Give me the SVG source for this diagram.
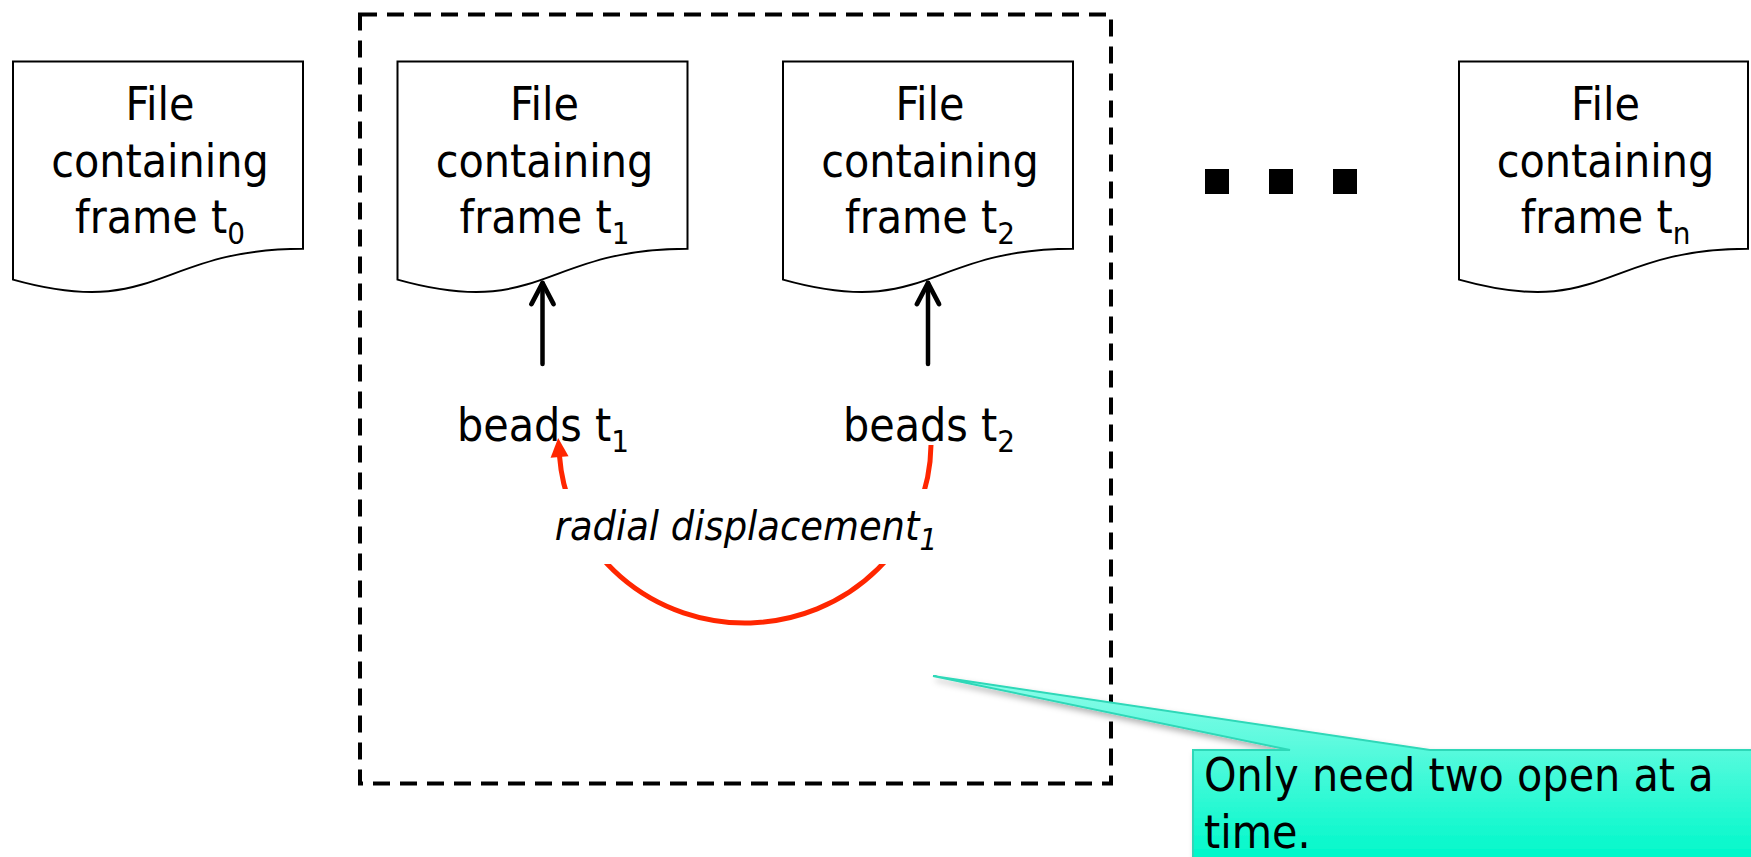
<svg xmlns="http://www.w3.org/2000/svg" width="1751" height="857" viewBox="0 0 1751 857">
  <style>
    .txt { font-family: "DejaVu Sans Condensed", "DejaVu Sans", "Liberation Sans", sans-serif; font-stretch: condensed; font-size: 46px; fill: #000; }
    .mid { text-anchor: middle; }
    .ital { font-style: italic; font-size: 41px; }
    .sub { font-size: 31px; }
    .doc { fill: #fff; stroke: #000; stroke-width: 2; stroke-linejoin: miter; }
    .group-box { fill: none; stroke: #000; stroke-width: 4; stroke-dasharray: 17 10; }
    .link { fill: none; stroke: #000; stroke-width: 4.5; stroke-linecap: round; }
    .disp { fill: none; stroke: #ff2600; stroke-width: 5; }
    .dot { fill: #000; }
  </style>
  <defs>
    <marker id="openArrow" markerUnits="userSpaceOnUse" markerWidth="40" markerHeight="40" refX="22" refY="15" orient="auto" overflow="visible">
      <path d="M1,4 L22,15 L1,26" fill="none" stroke="#000" stroke-width="4.8" stroke-linecap="round" stroke-linejoin="round"/>
    </marker>
    <marker id="redArrow" markerUnits="userSpaceOnUse" markerWidth="24" markerHeight="24" refX="1" refY="9" orient="auto" overflow="visible">
      <path d="M0,0 L19,9 L0,18 Z" fill="#ff2600"/>
    </marker>
    <linearGradient id="calloutFill" gradientUnits="userSpaceOnUse" x1="0" y1="676" x2="0" y2="857">
      <stop offset="0" stop-color="#8ffce9"/>
      <stop offset="0.4" stop-color="#58fadd"/>
      <stop offset="1" stop-color="#00f8ca"/>
    </linearGradient>
    <filter id="softShadow" x="-10%" y="-20%" width="130%" height="160%">
      <feDropShadow dx="3" dy="4" stdDeviation="3" flood-color="#000" flood-opacity="0.3"/>
    </filter>
  </defs>

  <!-- dashed outline around the two files kept open -->
  <rect id="open-window" class="group-box" x="360" y="14.5" width="751" height="769"/>

  <!-- file documents -->
  <g id="file-t0">
    <path class="doc" d="M13,61.5 H303 V248.8 C158,248.8 158,320.1 13,279.6 Z"/>
    <text class="txt mid" x="160" y="120">File</text>
    <text class="txt mid" x="160" y="176.5">containing</text>
    <text class="txt mid" x="160" y="232.5">frame t<tspan class="sub" dy="11">0</tspan></text>
  </g>
  <g id="file-t1">
    <path class="doc" d="M397.5,61.5 H687.5 V248.8 C542.5,248.8 542.5,320.1 397.5,279.6 Z"/>
    <text class="txt mid" x="544.5" y="120">File</text>
    <text class="txt mid" x="544.5" y="176.5">containing</text>
    <text class="txt mid" x="544.5" y="232.5">frame t<tspan class="sub" dy="11">1</tspan></text>
  </g>
  <g id="file-t2">
    <path class="doc" d="M783,61.5 H1073 V248.8 C928,248.8 928,320.1 783,279.6 Z"/>
    <text class="txt mid" x="930" y="120">File</text>
    <text class="txt mid" x="930" y="176.5">containing</text>
    <text class="txt mid" x="930" y="232.5">frame t<tspan class="sub" dy="11">2</tspan></text>
  </g>
  <g id="file-tn">
    <path class="doc" d="M1459,61.5 H1748 V248.8 C1603.5,248.8 1603.5,320.1 1459,279.6 Z"/>
    <text class="txt mid" x="1605.5" y="120">File</text>
    <text class="txt mid" x="1605.5" y="176.5">containing</text>
    <text class="txt mid" x="1605.5" y="232.5">frame t<tspan class="sub" dy="11">n</tspan></text>
  </g>

  <!-- ellipsis between t2 and tn -->
  <g id="ellipsis">
    <rect class="dot" x="1205" y="169" width="24" height="25"/>
    <rect class="dot" x="1269" y="169" width="24" height="25"/>
    <rect class="dot" x="1333" y="169" width="24" height="25"/>
  </g>

  <!-- bead labels -->
  <g id="beads-t1">
    <text class="txt mid" x="543" y="441">beads t<tspan class="sub" dy="11">1</tspan></text>
  </g>
  <g id="beads-t2">
    <text class="txt mid" x="929" y="441">beads t<tspan class="sub" dy="11">2</tspan></text>
  </g>

  <!-- connectors -->
  <g id="connectors">
    <line class="link" x1="542.5" y1="364" x2="542.5" y2="283" marker-end="url(#openArrow)"/>
    <line class="link" x1="928" y1="364" x2="928" y2="283" marker-end="url(#openArrow)"/>
    <path class="disp" d="M931,445 A186,180 0 0 1 559.5,456" marker-end="url(#redArrow)"/>
  </g>

  <!-- displacement label on a white text box -->
  <g id="displacement-label">
    <rect x="545" y="489" width="400" height="75" fill="#fff"/>
    <text class="txt ital mid" x="746" y="540">radial displacement<tspan class="sub" font-size="27" dy="10">1</tspan></text>
  </g>

  <!-- callout note -->
  <g id="callout-note">
    <path d="M1193,750 L1290,750 L933,676 L1430,750 L1765,750 L1765,875 L1193,875 Z" fill="url(#calloutFill)" stroke="#2fd8b8" stroke-width="2" filter="url(#softShadow)"/>
    <text class="txt" x="1204" y="791">Only need two open at a</text>
    <text class="txt" x="1204" y="848">time.</text>
  </g>
</svg>
